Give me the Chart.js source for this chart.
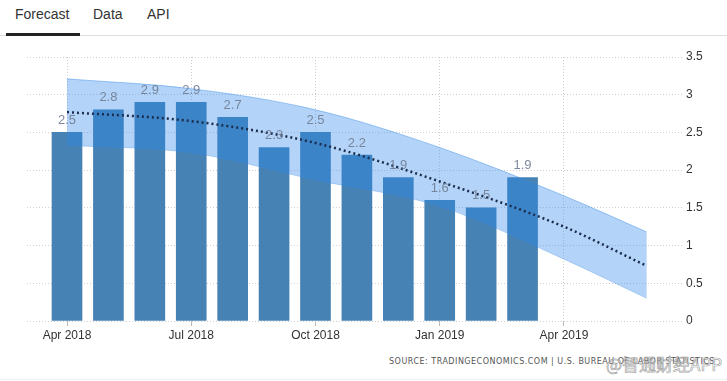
<!DOCTYPE html>
<html>
<head>
<meta charset="utf-8">
<script src="https://cdn.jsdelivr.net/npm/chart.js@4/dist/chart.umd.min.js"></script>
<style>
  html,body{margin:0;padding:0;background:#fff;width:727px;height:381px;overflow:hidden;position:relative;font-family:"Liberation Sans",Arial,sans-serif;}
  .tab{position:absolute;top:6px;font-size:14px;color:#333;}
  #tabline{position:absolute;left:0;top:35px;width:727px;height:1px;background:#ddd;}
  #tabactive{position:absolute;left:6px;top:33px;width:74px;height:3px;background:#222;}
  #wrap{position:absolute;left:0;top:40px;width:727px;height:305px;}
  #source{position:absolute;left:389px;top:357px;font-family:"DejaVu Sans",sans-serif;font-size:8px;color:#555;letter-spacing:0.5px;white-space:nowrap;}
  #wm{position:absolute;left:606px;top:351px;font-family:"Noto Sans CJK SC",sans-serif;font-size:17px;color:rgba(255,255,255,0.55);-webkit-text-stroke:0.7px rgba(140,140,140,0.8);white-space:nowrap;}
  #bottomline{position:absolute;left:0;top:379px;width:727px;height:1px;background:#eee;}
</style>
</head>
<body>
<div class="tab" style="left:15px">Forecast</div>
<div class="tab" style="left:93px">Data</div>
<div class="tab" style="left:147px">API</div>
<div id="tabline"></div>
<div id="tabactive"></div>
<div id="wrap"><canvas id="c" width="727" height="305"></canvas></div>
<div id="source">SOURCE: TRADINGECONOMICS.COM | U.S. BUREAU OF LABOR STATISTICS</div>
<div id="wm">@智通财经APP</div>
<div id="bottomline"></div>
<script>
// ---- data ----
const barMonths = ['Apr 2018','May 2018','Jun 2018','Jul 2018','Aug 2018','Sep 2018','Oct 2018','Nov 2018','Dec 2018','Jan 2019','Feb 2019','Mar 2019'];
const barValues = [2.5, 2.8, 2.9, 2.9, 2.7, 2.3, 2.5, 2.2, 1.9, 1.6, 1.5, 1.9];
// forecast positions in months after Apr 2018
const forecastMonths = [0, 3, 6, 9, 12, 14];
const forecastMid  = [2.77, 2.65, 2.36, 1.85, 1.25, 0.73];
const forecastHigh = [3.21, 3.08, 2.80, 2.30, 1.66, 1.18];
const forecastLow  = [2.33, 2.23, 1.87, 1.52, 0.82, 0.30];
const xTickMonths = [0, 3, 6, 9, 12];
const xTickLabels = ['Apr 2018','Jul 2018','Oct 2018','Jan 2019','Apr 2019'];
const yTickValues = [0, 0.5, 1, 1.5, 2, 2.5, 3, 3.5];

const pts = (xs, ys) => xs.map((x, i) => ({x: x, y: ys[i]}));
const barPts = barValues.map((v, i) => ({x: i, y: v}));

const labelPlugin = {
  id: 'barLabels',
  afterDatasetsDraw(chart) {
    const ctx = chart.ctx;
    const meta = chart.getDatasetMeta(0);
    ctx.save();
    ctx.font = '13px "Liberation Sans", Arial, sans-serif';
    ctx.fillStyle = 'rgba(112,124,146,0.9)';
    ctx.textAlign = 'center';
    ctx.textBaseline = 'middle';
    meta.data.forEach((bar, i) => {
      ctx.fillText(barValues[i].toFixed(1), bar.x, bar.y - 12);
    });
    ctx.restore();
  }
};

new Chart(document.getElementById('c'), {
  type: 'bar',
  data: {
    datasets: [
      {
        type: 'bar', label: 'Actual', data: barPts,
        backgroundColor: '#4682b4', barThickness: 30, order: 4
      },
      {
        type: 'line', label: 'High', data: pts(forecastMonths, forecastHigh),
        borderColor: 'rgba(60,140,230,0.45)', borderWidth: 1,
        backgroundColor: 'rgba(45,135,235,0.36)',
        fill: '+1', pointRadius: 0, cubicInterpolationMode: 'monotone', order: 3
      },
      {
        type: 'line', label: 'Low', data: pts(forecastMonths, forecastLow),
        borderColor: 'rgba(60,140,230,0.3)', borderWidth: 1,
        fill: false, pointRadius: 0, cubicInterpolationMode: 'monotone', order: 2
      },
      {
        type: 'line', label: 'Forecast', data: pts(forecastMonths, forecastMid),
        borderColor: '#1c2c4c', borderWidth: 2.5, borderDash: [2, 3],
        fill: false, pointRadius: 0, cubicInterpolationMode: 'monotone', order: 1
      }
    ]
  },
  options: {
    responsive: false,
    animation: false,
    devicePixelRatio: 1,
    layout: { padding: { top: 17, left: 27, right: 0, bottom: 0 } },
    plugins: { legend: { display: false }, tooltip: { enabled: false } },
    scales: {
      x: {
        type: 'linear', min: -0.966, max: 14.85, offset: false,
        afterBuildTicks: (s) => { s.ticks = xTickMonths.map(v => ({value: v})); },
        afterFit: (s) => { s.height = 24; },
        ticks: {
          autoSkip: false, maxRotation: 0, padding: 2, color: '#333',
          font: { family: '"Liberation Sans", Arial, sans-serif', size: 12 },
          callback: (v) => { const i = xTickMonths.indexOf(v); return i >= 0 ? xTickLabels[i] : ''; }
        },
        grid: { offset: false, color: '#cfcfcf', drawTicks: true, tickLength: 5, tickColor: '#bbb' },
        border: { display: false, dash: [1, 2] }
      },
      y: {
        position: 'right', min: 0, max: 3.5,
        afterBuildTicks: (s) => { s.ticks = yTickValues.map(v => ({value: v})); },
        afterFit: (s) => { s.width = 45; },
        ticks: {
          padding: 4, color: '#333',
          font: { family: '"Liberation Sans", Arial, sans-serif', size: 12 },
          callback: (v) => String(v)
        },
        grid: { color: '#cfcfcf', drawTicks: false },
        border: { display: false, dash: [1, 2] }
      }
    }
  },
  plugins: [labelPlugin]
});
</script>
</body>
</html>
